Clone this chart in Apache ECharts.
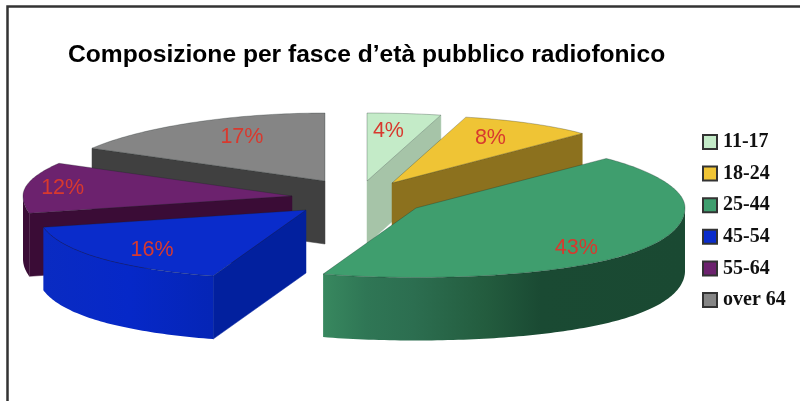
<!DOCTYPE html>
<html><head><meta charset="utf-8">
<style>html,body{margin:0;padding:0;background:#fff}#c{width:800px;height:401px}</style>
<script src="https://cdn.jsdelivr.net/npm/echarts@6/dist/echarts.min.js"></script>
</head><body><div id="c"></div>
<script>
// --- data ---
const chartTitle = 'Composizione per fasce d\u2019età pubblico radiofonico';
const categories = ['11-17', '18-24', '25-44', '45-54', '55-64', 'over 64'];
const percents = [4, 8, 43, 16, 12, 17];

// --- style / layout ---
const topColors = ['#c4ebc8', '#efc435', '#3f9e6e', '#0a2ccb', '#6c226e', '#858585'];
const faceColors = ['#a6c4a8', '#8c711e', null, '#02209e', '#3a0c36', '#404040'];
const wallStops = [
  null, null,
  [[0, '#38885f'], [0.12, '#2f7655'], [0.25, '#2c6e50'], [0.45, '#235c3e'], [0.6, '#1a4a33'], [1, '#1a4932']],
  [[0, '#0a2bc2'], [0.5, '#0628c8'], [1, '#0525b6']],
  [[0, '#3a0c36'], [1, '#3a0c36']],
  null
];
// exploded position of each slice's apex, relative to (cx, cy)
const cx = 360, cy = 195;
const explodeX = [7, 32, 56, -54, -68, -35];
const explodeY = [-14, -12, 13, 15, 1, -14];
const labelFracX = [0.57, 0.71, 0.67, 0.74, 0.86, 0.63];
const labelFracY = [0.74, 0.75, 1.13, 0.84, 0.95, 0.75];
const rx = 269, ry = 68, ryFront = 69.5, depth = 63;
const bulgeBackRight = 0.118, bulgeFront = 0.13, bulgeBackLeft = -0.05;
const drawOrder = [0, 1, 5, 4, 3, 2];

const rad = d => d * Math.PI / 180;
const starts = [];
percents.reduce((s, v, i) => (starts[i] = s, s + v), 0);

function project(ax, ay, deg, fx, fy) {
  const s = Math.sin(rad(deg)), c = Math.cos(rad(deg));
  const k = c < 0 ? bulgeFront * c * c
          : s > 0 ? bulgeBackRight * c * c * c * c
          : bulgeBackLeft * c * c;
  const r2 = c < 0 ? ryFront : ry;
  return [ax + (fx == null ? 1 : fx) * rx * (1 + k) * s,
          ay - (fy == null ? 1 : fy) * r2 * c];
}

function renderSlice(params, api) {
  const i = api.value(1);
  const v = api.value(0);
  const a0 = starts[i] * 3.6, a1 = (starts[i] + v) * 3.6;
  const ax = cx + explodeX[i], ay = cy + explodeY[i];
  const rim = [];
  const n = Math.max(6, Math.ceil(a1 - a0));
  for (let k = 0; k <= n; k++) rim.push(project(ax, ay, a0 + (a1 - a0) * k / n));
  const children = [];
  const down = p => [p[0], p[1] + depth];
  const apex = [ax, ay];

  const addFace = (p, fill) => children.push({
    type: 'polygon',
    shape: { points: [apex, p, down(p), down(apex)] },
    style: { fill, stroke: fill, lineWidth: 0.5 }
  });
  if (faceColors[i]) {
    const p = (i >= 3) ? rim[0] : rim[rim.length - 1];
    addFace(p, faceColors[i]);
  }

  if (wallStops[i]) {
    const lo = Math.max(a0, 90), hi = Math.min(a1, 270);
    if (hi > lo) {
      const m = Math.ceil(hi - lo), edge = [];
      for (let k = 0; k <= m; k++) edge.push(project(ax, ay, lo + (hi - lo) * k / m));
      const wall = edge.concat(edge.slice().reverse().map(down));
      const xs = edge.map(p => p[0]);
      const xmin = Math.min.apply(null, xs), xmax = Math.max.apply(null, xs);
      const grad = new echarts.graphic.LinearGradient(xmin, 0, xmax, 0,
        wallStops[i].map(s => ({ offset: s[0], color: s[1] })), true);
      children.push({ type: 'polygon', shape: { points: wall },
        style: { fill: grad, stroke: 'none' } });
    }
  }

  children.push({
    type: 'polygon',
    shape: { points: [apex].concat(rim) },
    style: { fill: topColors[i], stroke: 'rgba(20,30,30,0.45)', lineWidth: 0.6 }
  });

  const mid = (a0 + a1) / 2;
  const lp = project(ax, ay, mid, labelFracX[i], labelFracY[i]);
  children.push({
    type: 'text',
    x: lp[0], y: lp[1],
    style: { text: v + '%', fill: '#d8392e', font: '21.5px "Liberation Sans", Arial, sans-serif',
      align: 'center', verticalAlign: 'middle' }
  });
  return { type: 'group', children };
}

const chart = echarts.init(document.getElementById('c'), null, { renderer: 'canvas' });
chart.setOption({
  animation: false,
  backgroundColor: '#ffffff',
  title: {
    text: chartTitle, left: 63, top: 38,
    textStyle: { fontFamily: '"Liberation Sans", Arial, sans-serif', fontWeight: 'bold', fontSize: 24.6, color: '#000' }
  },
  legend: {
    orient: 'vertical', left: 702, top: 132, padding: 0,
    data: categories,
    itemWidth: 14, itemHeight: 14, itemGap: 11.6,
    icon: 'rect',
    textStyle: { fontFamily: '"Liberation Serif", "Times New Roman", serif', fontWeight: 'bold', fontSize: 20, color: '#111', padding: [0, 0, 0, 1] }
  },
  graphic: [
    { type: 'polyline', silent: true, shape: { points: [[7.5, 401], [7.5, 6.5], [800, 6.5]] },
      style: { stroke: '#333', lineWidth: 2.5, fill: 'none' } }
  ],
  series: drawOrder.map(i => ({
    type: 'custom',
    name: categories[i],
    coordinateSystem: 'none',
    renderItem: renderSlice,
    silent: true,
    itemStyle: { color: topColors[i], borderColor: '#333', borderWidth: 1.5 },
    data: [{ name: categories[i], value: [percents[i], i] }]
  }))
});
</script></body></html>
